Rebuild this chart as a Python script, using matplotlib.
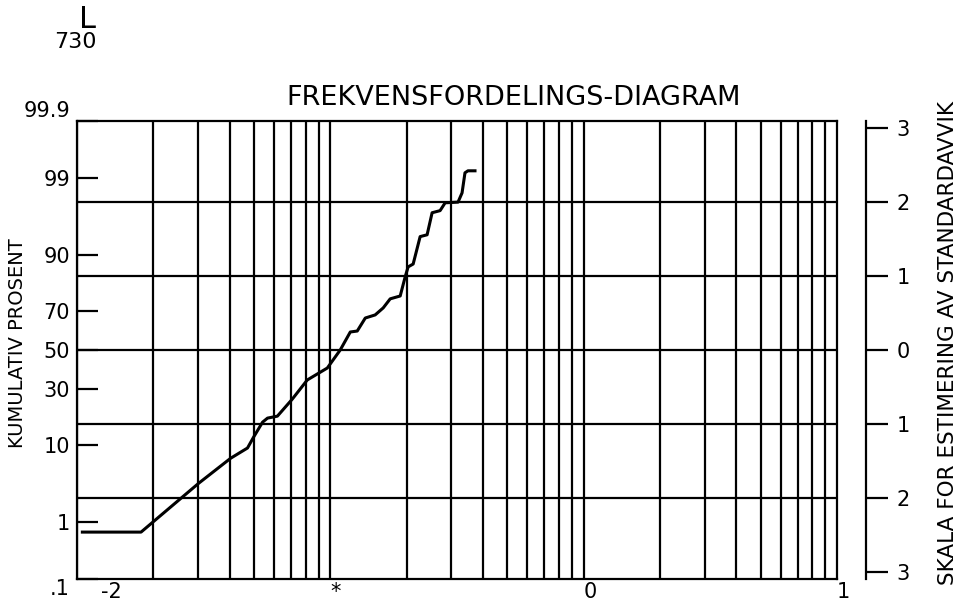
from statistics import NormalDist
import matplotlib
matplotlib.use('Agg')
import matplotlib.pyplot as plt
from matplotlib.transforms import ScaledTranslation
import numpy as np

# kumulativ fordeling, x i log-skala og prosent
xverdier = [0.0105, 0.0179, 0.0302, 0.0404, 0.0471, 0.0498, 0.0540, 0.0565,
            0.0618, 0.0708, 0.0811, 0.0888, 0.0973, 0.1094, 0.1199, 0.1277,
            0.1374, 0.1503, 0.1617, 0.1723, 0.1887, 0.1974, 0.2028, 0.2123,
            0.2262, 0.2410, 0.2522, 0.2712, 0.2839, 0.3192, 0.3311, 0.3400,
            0.3493, 0.3724]
prosent = [0.70, 0.70, 3.6, 7.2, 9.3, 12.0, 16.5, 17.9, 18.6, 25.4, 34.3,
           37.3, 40.4, 50.0, 59.6, 60.1, 66.7, 68.2, 71.5, 75.5, 76.7, 83.8,
           86.9, 87.7, 93.7, 94.0, 96.8, 97.0, 97.65, 97.7, 98.3, 99.16,
           99.22, 99.22]

prosent_ticks = [0.1, 1, 10, 30, 50, 70, 90, 99, 99.9]
prosent_labels = ['.1', '1', '10', '30', '50', '70', '90', '99', '99.9']
avvik_ticks = [-3, -2, -1, 0, 1, 2, 3]
avvik_labels = ['3', '2', '1', '0', '1', '2', '3']
x_ticks = [0.01, 0.1, 1, 10]
x_labels = ['-2', '*', '0', '1']

nd = NormalDist()
def probit(p):
    return [nd.inv_cdf(v / 100.0) for v in p]

zmin, zmax = probit([0.1, 99.9])
W, H = 968, 606

fig = plt.figure(figsize=(W / 100, H / 100), dpi=100)
ax = fig.add_axes([77 / W, 1 - 579 / H, 760 / W, 458 / H])
ax.set_xscale('log')
ax.set_xlim(0.01, 10)
ax.set_ylim(zmin, zmax)

# rutenett: vertikale linjer i log-skala, horisontale ved hele standardavvik
for dek in [0.01, 0.1, 1]:
    for k in range(1, 10):
        ax.axvline(dek * k, color='black', lw=1.6, zorder=1)
for z in [-2, -1, 0, 1, 2]:
    ax.axhline(z, color='black', lw=1.6, zorder=1)
for s in ax.spines.values():
    s.set_linewidth(1.6)

ax.plot(xverdier, probit(prosent), color='black', lw=2.2, zorder=3)

# venstre akse
ax.set_yticks(probit(prosent_ticks))
ax.set_yticklabels(prosent_labels, fontsize=15)
ax.tick_params(axis='y', direction='in', length=15, width=1.6, pad=5)
ax.yaxis.set_minor_locator(matplotlib.ticker.NullLocator())
tl = ax.get_yticklabels()
tl[0].set_verticalalignment('top')
tl[-1].set_verticalalignment('bottom')

# x-akse
ax.set_xticks(x_ticks)
ax.set_xticklabels(x_labels, fontsize=15, ha='left')
ax.xaxis.set_minor_locator(matplotlib.ticker.NullLocator())
ax.tick_params(axis='x', length=0, pad=2)
xl = ax.get_xticklabels()
xl[0].set_transform(xl[0].get_transform() + ScaledTranslation(24 / 100, 0, fig.dpi_scale_trans))

# hoyre akse for standardavvik
ax2 = fig.add_axes([866 / W, 1 - 579 / H, 0.0001, 458 / H])
ax2.set_ylim(zmin, zmax)
for side in ['top', 'bottom', 'left']:
    ax2.spines[side].set_visible(False)
ax2.spines['right'].set_linewidth(1.6)
ax2.set_xticks([])
ax2.yaxis.tick_right()
ax2.set_yticks(avvik_ticks)
ax2.set_yticklabels(avvik_labels, fontsize=15)
ax2.tick_params(axis='y', direction='out', length=16, width=1.6, pad=6)

fig.text(514 / W, 1 - 98 / H, 'FREKVENSFORDELINGS-DIAGRAM', fontsize=19.5,
         ha='center', va='center')
fig.text(18 / W, 1 - 343 / H, 'KUMULATIV PROSENT', fontsize=14,
         rotation=90, ha='center', va='center')
fig.text(948 / W, 1 - 343 / H, 'SKALA FOR ESTIMERING AV STANDARDAVVIK',
         fontsize=15.5, rotation=90, ha='center', va='center')
fig.text(88 / W, 1 - 19 / H, 'L', fontsize=22, ha='center', va='center')
fig.text(75 / W, 1 - 42 / H, '730', fontsize=16, ha='center', va='center')

fig.savefig('out.png', dpi=100)
